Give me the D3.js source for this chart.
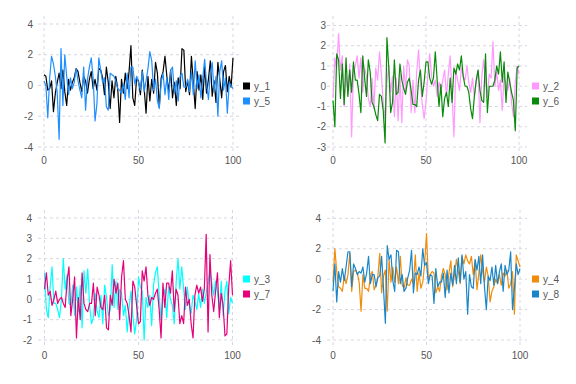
<!DOCTYPE html>
<html><head><meta charset="utf-8">
<script src="https://cdn.jsdelivr.net/npm/d3@7"></script>
<style>body{margin:0;background:#fff}svg{display:block}</style>
</head><body><svg id="c" width="576" height="384"></svg>
<script>
const xValues = d3.range(0, 101);
const xTicks = [0, 50, 100];

const y1 = [0.7,0.6,-0.3,-0.2,0.3,-1.7,-0.5,0.2,0.8,-0.2,
 1.0,-0.4,-1.3,0.4,-0.3,0.2,0.5,1.1,0.9,0.2,
 -0.4,0.6,0.3,-0.5,0.4,0.9,-0.2,0.4,-0.3,1.1,
 1.0,0.5,-0.6,1.2,0.2,-1.5,0.3,-0.8,0.6,-0.2,
 -2.4,0.4,-0.5,0.8,-0.2,0.9,2.6,-0.8,-1.3,0.5,
 0.3,-0.6,1.0,-0.2,-1.8,0.6,-1.0,0.4,-0.5,1.5,
 0.8,-1.4,0.5,0.9,1.9,0.6,-0.4,1.0,-0.8,0.2,
 -1.3,0.5,-0.2,2.4,2.3,-0.4,0.3,-0.6,1.9,0.2,
 -1.5,0.9,-0.3,0.7,-0.9,1.2,-0.5,0.4,1.6,-0.7,
 0.3,-1.1,1.5,0.4,-0.8,0.9,1.3,-0.4,0.6,-0.1,
 1.8];
const y5 = [0.3,0.0,-2.1,0.5,1.9,1.4,0.6,-0.5,-3.5,2.4,
 -1.3,2.0,0.6,-0.6,0.5,-0.2,0.2,1.1,0.3,-0.3,
 -0.8,1.2,-1.6,0.4,1.2,1.8,0.5,-2.3,-1.2,1.8,
 1.0,0.2,0.5,-1.4,-1.6,0.8,0.7,0.6,0.3,-0.2,
 -0.3,-0.5,0.1,-0.9,0.8,-0.8,1.2,1.2,0.1,0.6,
 0.2,-0.3,0.9,-0.4,0.3,1.1,2.2,1.6,-0.3,0.4,
 -1.0,-1.5,0.2,0.8,-0.6,0.5,-0.9,1.0,1.2,-0.5,
 0.3,-1.0,0.6,0.8,-0.1,-0.1,0.4,-0.4,0.9,-0.6,
 1.6,-0.2,0.7,-0.8,0.5,1.7,0.1,-0.9,0.8,1.5,
 -0.4,0.6,-2.0,0.9,1.6,-0.3,0.5,-1.8,0.2,0.0,
 -0.2];
const y2 = [-0.6,1.4,0.9,2.6,0.8,1.5,-1.0,0.5,-0.2,1.1,
 -2.5,0.7,1.0,1.5,0.4,1.4,-0.3,0.9,0.5,-0.6,
 -1.0,0.4,-1.1,0.9,0.3,1.7,0.6,-0.8,-1.6,0.2,
 1.0,-0.3,0.5,-1.5,0.4,-1.7,0.6,-1.8,1.0,-0.2,
 1.3,1.0,-1.3,0.3,-1.3,0.7,1.8,0.2,-0.9,-1.6,
 -0.8,0.6,1.6,0.5,0.0,0.3,-0.5,0.2,-0.3,0.3,
 0.8,-0.5,0.6,1.5,-0.4,-2.5,0.8,0.3,-0.2,0.9,
 0.5,0.3,1.0,0.2,-0.3,0.4,-0.5,0.2,0.8,-1.8,
 0.5,1.3,0.2,-0.5,0.6,0.4,2.2,0.0,0.7,-0.2,
 0.3,-1.2,0.5,0.1,-0.2,0.4,-0.8,-1.5,0.2,1.0,
 0.6];
const y6 = [-0.7,-2.0,1.6,1.3,-0.6,1.1,-0.9,1.4,-0.5,0.8,
 -0.3,1.2,0.3,0.3,-0.4,-1.3,1.5,0.4,-0.5,1.3,
 0.7,-0.8,-1.0,-1.4,-1.7,-0.4,-0.5,-1.2,-2.8,2.4,
 0.9,-1.3,-0.8,1.3,-0.4,-0.3,1.1,0.3,-0.1,-0.4,
 0.2,0.4,-0.2,-0.9,-0.9,-1.0,0.3,0.8,-0.5,0.2,
 1.2,1.2,0.4,0.1,0.4,1.7,0.3,-1.0,0.1,-1.5,
 -0.6,-0.3,-1.0,0.4,-0.8,0.9,0.6,1.1,0.8,1.5,
 0.5,0.0,0.0,-0.3,-1.1,-1.6,-0.5,0.3,0.8,-0.2,
 -0.7,-0.8,1.6,-1.3,0.0,0.0,0.0,0.3,1.0,0.6,
 1.7,0.2,1.2,-0.8,0.7,0.2,-0.3,-0.7,-2.2,0.9,
 1.0];
const y3 = [1.3,-0.5,-0.9,0.6,1.6,-0.2,-0.2,-0.5,-0.9,0.0,
 2.0,0.5,1.2,-0.2,-0.3,0.7,-0.8,0.6,-0.6,0.7,
 -1.4,1.4,0.3,1.5,-0.3,-1.2,-0.9,0.3,-0.6,-0.9,
 0.2,-1.2,0.7,0.1,-0.8,-0.5,1.7,-0.4,0.9,-0.5,
 0.5,0.3,-0.8,-0.3,-1.6,-0.4,0.4,-0.8,-1.7,-1.0,
 1.1,0.6,0.4,-2.0,0.1,-0.4,0.2,-1.3,0.7,1.3,
 1.6,0.2,-1.0,0.1,0.5,-0.9,0.6,0.0,-0.3,-1.2,
 0.8,2.0,0.5,1.6,0.5,-0.5,0.6,-0.3,-0.7,0.2,
 -0.1,-0.5,0.3,-0.4,0.5,-0.2,0.3,0.8,1.5,0.8,
 0.2,0.9,0.4,-0.5,0.9,-0.8,0.4,0.9,-0.7,0.1,
 -0.2];
const y7 = [0.5,1.3,0.2,0.4,-0.3,0.0,0.4,-0.2,0.0,0.1,
 -0.2,-0.4,0.9,1.6,-0.8,0.0,1.1,-1.9,0.1,-1.0,
 1.3,-0.2,-0.5,-0.6,-0.2,-0.2,0.8,-0.8,0.6,0.2,
 -0.4,-0.5,0.2,-1.4,-1.5,0.2,-0.3,1.0,0.3,0.8,
 -1.0,1.1,1.9,0.0,-0.2,-0.8,-1.6,0.9,0.6,-0.3,
 -1.2,-1.1,1.4,0.9,1.6,0.2,-0.3,0.1,0.0,0.3,
 0.5,-0.5,-1.9,0.8,-0.4,0.8,0.8,0.3,1.4,-0.6,
 0.5,0.2,-1.2,-0.8,-1.2,0.6,-0.3,0.0,-1.2,-1.9,
 0.2,0.7,0.3,0.6,-0.1,0.5,3.2,-1.6,2.2,0.2,
 -0.6,0.4,1.3,-0.9,0.3,-0.3,-1.8,-1.7,0.6,1.9,
 0.2];
const y4 = [-0.2,2.0,0.5,-0.5,-0.6,-0.8,0.2,-0.3,0.3,1.7,
 -0.8,0.5,0.6,0.4,-0.2,-2.1,0.3,-0.6,-0.6,-0.8,
 0.2,0.5,-0.7,-0.4,0.2,1.7,-0.9,0.2,0.6,-2.1,
 1.3,-0.2,0.8,-0.2,0.8,-0.3,1.5,-0.4,-0.6,0.1,
 -0.4,-0.4,0.0,-0.3,1.6,-0.8,0.4,-0.6,-0.2,1.0,
 3.0,0.0,0.3,0.5,0.4,-0.9,-0.5,-0.8,0.2,0.7,
 0.3,-0.7,0.4,1.2,-0.5,0.3,1.3,0.5,-0.3,1.5,
 1.0,1.6,1.2,1.0,1.5,0.3,1.2,-0.7,0.4,1.6,
 0.5,-0.2,0.8,0.2,-1.5,-0.8,-0.5,0.0,-0.3,0.3,
 -0.4,0.4,0.2,0.6,-0.6,-0.3,0.5,-2.3,1.6,1.2,
 0.8];
const y8 = [-0.8,1.0,-1.5,0.5,-0.2,0.7,-0.1,0.8,1.8,1.8,
 -0.5,1.0,0.7,0.3,0.5,0.4,0.8,-0.2,0.4,1.5,
 -0.3,0.3,0.3,-0.5,0.1,0.2,1.5,-0.6,-2.9,2.2,
 1.3,1.6,-0.1,-0.8,1.9,1.8,-0.3,0.3,-0.8,-0.6,
 0.1,0.6,1.9,-0.9,0.4,0.3,0.8,0.2,2.0,0.9,
 1.1,-0.3,0.3,0.2,-1.6,0.7,-0.5,-0.2,-0.2,0.4,
 -1.2,0.6,-0.9,0.4,-0.4,0.9,-0.3,1.4,-0.2,1.6,
 0.0,0.5,-2.3,0.3,-0.5,-0.6,1.3,0.6,1.5,-0.3,
 1.6,-0.5,-2.0,0.2,-0.1,0.8,-0.4,0.9,-0.3,0.5,
 1.0,-0.8,0.9,0.3,0.6,1.8,-2.0,-0.6,1.0,0.3,
 0.7];

const ticksA = [-4, -2, 0, 2, 4];
const ticksB = [-3, -2, -1, 0, 1, 2, 3];
const ticksC = [-2, -1, 0, 1, 2, 3, 4];

const panels = [
  {series: [["y_1", y1, "#000000"], ["y_5", y5, "#1e8fff"]], yTicks: ticksA,
   xr: [44, 233], yd: [4, -4], yr: [24, 147], gx: [38, 239], gy: [16, 155], lab: 33, leg: [243, 86], xlab: 164},
  {series: [["y_2", y2, "#ff99ff"], ["y_6", y6, "#0a8a0a"]], yTicks: ticksB,
   xr: [333, 519], yd: [3, -3], yr: [25.5, 147], gx: [327, 527], gy: [16, 155], lab: 326, leg: [532, 86], xlab: 164},
  {series: [["y_3", y3, "#00ffff"], ["y_7", y7, "#e6007a"]], yTicks: ticksC,
   xr: [44.5, 232.5], yd: [4, -2], yr: [218, 340], gx: [38, 237], gy: [210, 348], lab: 32, leg: [243, 279], xlab: 359},
  {series: [["y_4", y4, "#f08c0a"], ["y_8", y8, "#1a86c8"]], yTicks: ticksA,
   xr: [333, 520], yd: [4, -4], yr: [218.3, 340], gx: [327, 527], gy: [210, 348], lab: 321, leg: [532, 279], xlab: 359}
];

const svg = d3.select("#c");
const font = "'Liberation Sans', Arial, Helvetica, sans-serif";
const gridColor = "#d6d6e2";
const textColor = "#555";

panels.forEach(p => {
  const x = d3.scaleLinear().domain([0, 100]).range(p.xr);
  const y = d3.scaleLinear().domain(p.yd).range(p.yr);
  const g = svg.append("g");

  g.selectAll("line.hg").data(p.yTicks).enter().append("line")
    .attr("x1", p.gx[0]).attr("x2", p.gx[1])
    .attr("y1", d => y(d)).attr("y2", d => y(d))
    .attr("stroke", gridColor).attr("stroke-width", 1).attr("stroke-dasharray", "3,3");
  g.selectAll("line.vg").data(xTicks).enter().append("line")
    .attr("x1", d => x(d)).attr("x2", d => x(d))
    .attr("y1", p.gy[0]).attr("y2", p.gy[1])
    .attr("stroke", gridColor).attr("stroke-width", 1).attr("stroke-dasharray", "3,3");

  g.selectAll("text.yl").data(p.yTicks).enter().append("text")
    .attr("x", p.lab).attr("y", d => y(d)).attr("dy", "0.35em")
    .attr("text-anchor", "end").attr("font-family", font).attr("font-size", 10)
    .attr("fill", textColor).text(d => d);
  g.selectAll("text.xl").data(xTicks).enter().append("text")
    .attr("x", d => x(d)).attr("y", p.xlab)
    .attr("text-anchor", "middle").attr("font-family", font).attr("font-size", 10)
    .attr("fill", textColor).text(d => d);

  const line = d3.line().x((d, i) => x(xValues[i])).y(d => y(d));
  p.series.forEach(([name, vals, color]) => {
    g.append("path").datum(vals).attr("d", line)
      .attr("fill", "none").attr("stroke", color).attr("stroke-width", 1.2)
      .attr("stroke-linejoin", "round");
  });

  p.series.forEach(([name, vals, color], k) => {
    const ly = p.leg[1] + k * 15;
    g.append("rect").attr("x", p.leg[0]).attr("y", ly - 3.5).attr("width", 7).attr("height", 7).attr("fill", color);
    g.append("text").attr("x", p.leg[0] + 11).attr("y", ly).attr("dy", "0.35em")
      .attr("font-family", font).attr("font-size", 10).attr("fill", textColor).text(name);
  });
});
</script></body></html>
